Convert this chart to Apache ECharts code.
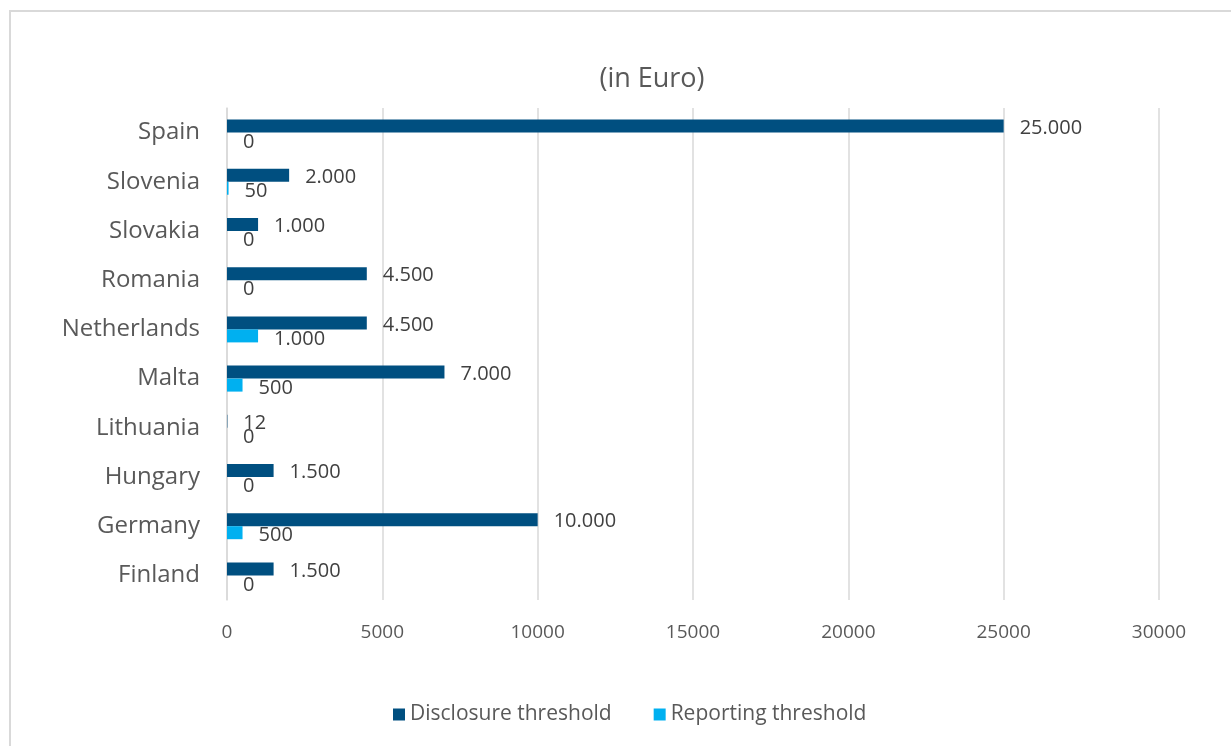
<!DOCTYPE html>
<html>
<head>
<meta charset="utf-8">
<script src="https://cdn.jsdelivr.net/npm/echarts@6/dist/echarts.min.js"></script>
<style>
  html, body { margin: 0; padding: 0; background: #fff; }
  #wrap { position: relative; width: 1231px; height: 746px; overflow: hidden; }
  #frame { position: absolute; left: 9px; top: 10px; width: 1240px; height: 760px; border: 2px solid #d9d9d9; box-sizing: border-box; }
  #chart { position: absolute; left: 0; top: 0; width: 1231px; height: 746px; }
</style>
</head>
<body>
<div id="wrap">
  <div id="frame"></div>
  <div id="chart"></div>
</div>
<script>
// categories bottom -> top
const countries = ['Finland', 'Germany', 'Hungary', 'Lithuania', 'Malta', 'Netherlands', 'Romania', 'Slovakia', 'Slovenia', 'Spain']
const disclosure = [1500, 10000, 1500, 12, 7000, 4500, 4500, 1000, 2000, 25000]
const reporting = [0, 500, 0, 0, 500, 1000, 0, 0, 50, 0]
const xTicks = [0, 5000, 10000, 15000, 20000, 25000, 30000]

const font = 'Open Sans'
const grey = '#595959'

// 25000 -> 25.000
function fmt (v) {
  return String(v).replace(/\B(?=(\d{3})+(?!\d))/g, '.')
}

const chart = echarts.init(document.getElementById('chart'))
const option = {
  animation: false,
  textStyle: { fontFamily: font },
  title: {
    text: '(in Euro)',
    left: 647,
    top: 61,
    textAlign: 'center',
    textStyle: { fontFamily: font, fontSize: 27, fontWeight: 'normal', color: grey }
  },
  legend: {
    bottom: 16,
    left: 388,
    itemWidth: 12,
    itemHeight: 12,
    itemGap: 42,
    icon: 'rect',
    textStyle: { fontFamily: font, fontSize: 21, color: grey },
    data: ['Disclosure threshold', 'Reporting threshold']
  },
  grid: { left: 227, right: 72, top: 108, bottom: 146, containLabel: false },
  xAxis: {
    type: 'value',
    min: xTicks[0],
    max: xTicks[xTicks.length - 1],
    interval: 5000,
    axisLine: { show: false },
    axisTick: { show: false },
    axisLabel: { fontFamily: font, fontSize: 19, color: grey, margin: 23, formatter: v => String(v) },
    splitLine: { lineStyle: { color: '#d9d9d9', width: 1.5 } }
  },
  yAxis: {
    type: 'category',
    data: countries,
    axisLine: { lineStyle: { color: '#d9d9d9', width: 1.5 } },
    axisTick: { show: false },
    axisLabel: { fontFamily: font, fontSize: 24, color: grey, margin: 27 }
  },
  series: [
    {
      name: 'Disclosure threshold',
      type: 'bar',
      data: disclosure,
      barWidth: 13,
      barGap: '0%',
      itemStyle: { color: '#004f80' },
      label: {
        show: true,
        position: 'right',
        distance: 16,
        offset: [0, 2],
        fontFamily: font,
        fontSize: 20,
        color: '#404040',
        formatter: p => fmt(p.value)
      }
    },
    {
      name: 'Reporting threshold',
      type: 'bar',
      data: reporting,
      barWidth: 13,
      barGap: '0%',
      itemStyle: { color: '#00b0f0' },
      label: {
        show: true,
        position: 'right',
        distance: 16,
        offset: [0, 3],
        fontFamily: font,
        fontSize: 20,
        color: '#404040',
        formatter: p => fmt(p.value)
      }
    }
  ]
}
chart.setOption(option)
</script>
</body>
</html>
